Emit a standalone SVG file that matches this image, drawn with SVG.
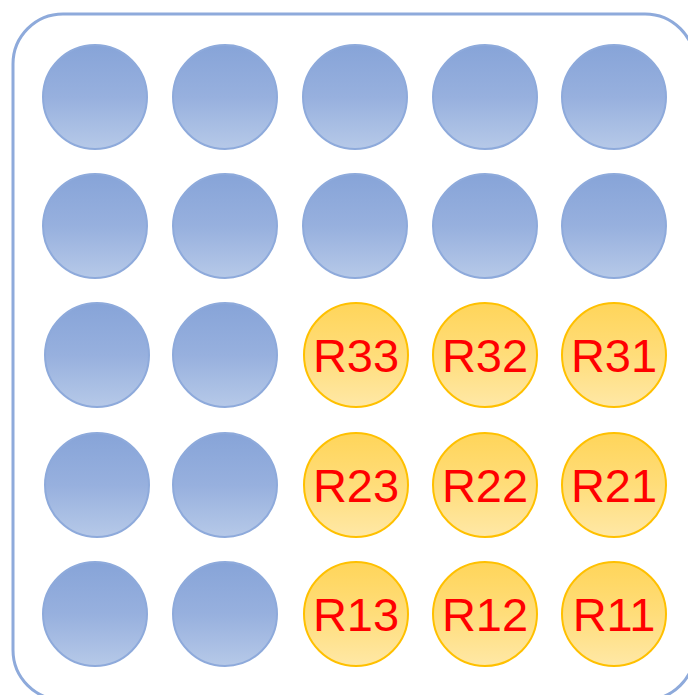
<svg xmlns="http://www.w3.org/2000/svg" width="688" height="695" viewBox="0 0 688 695">
<defs>
<linearGradient id="gb" x1="0" y1="0" x2="0" y2="1"><stop offset="0" stop-color="#87a4d8"/><stop offset="0.5" stop-color="#97b0de"/><stop offset="1" stop-color="#b6c9e8"/></linearGradient>
<linearGradient id="go" x1="0" y1="0" x2="0" y2="1"><stop offset="0" stop-color="#ffd55a"/><stop offset="0.5" stop-color="#ffdd7a"/><stop offset="1" stop-color="#ffe8a6"/></linearGradient>
<style>
.b{fill:url(#gb);stroke:#8eaadb;stroke-width:2}
.o{fill:url(#go);stroke:#ffc000;stroke-width:2}
.t{font-family:"Liberation Sans",Arial,sans-serif;font-size:47px;fill:#ff0000;text-anchor:middle}
.frame{fill:#ffffff;stroke:#8eaadb;stroke-width:3}
</style>
</defs>
<rect class="frame" x="13" y="14" width="682" height="686" rx="50" ry="50"/>
<g id="n11"><circle class="b" cx="95" cy="97" r="52"/></g>
<g id="n12"><circle class="b" cx="225" cy="97" r="52"/></g>
<g id="n13"><circle class="b" cx="355" cy="97" r="52"/></g>
<g id="n14"><circle class="b" cx="485" cy="97" r="52"/></g>
<g id="n15"><circle class="b" cx="614" cy="97" r="52"/></g>
<g id="n21"><circle class="b" cx="95" cy="226" r="52"/></g>
<g id="n22"><circle class="b" cx="225" cy="226" r="52"/></g>
<g id="n23"><circle class="b" cx="355" cy="226" r="52"/></g>
<g id="n24"><circle class="b" cx="485" cy="226" r="52"/></g>
<g id="n25"><circle class="b" cx="614" cy="226" r="52"/></g>
<g id="n31"><circle class="b" cx="97" cy="355" r="52"/></g>
<g id="n32"><circle class="b" cx="225" cy="355" r="52"/></g>
<g id="R33"><circle class="o" cx="356" cy="355" r="52"/><text class="t" x="356" y="372">R33</text></g>
<g id="R32"><circle class="o" cx="485" cy="355" r="52"/><text class="t" x="485" y="372">R32</text></g>
<g id="R31"><circle class="o" cx="614" cy="355" r="52"/><text class="t" x="614" y="372">R31</text></g>
<g id="n41"><circle class="b" cx="97" cy="485" r="52"/></g>
<g id="n42"><circle class="b" cx="225" cy="485" r="52"/></g>
<g id="R23"><circle class="o" cx="356" cy="485" r="52"/><text class="t" x="356" y="502">R23</text></g>
<g id="R22"><circle class="o" cx="485" cy="485" r="52"/><text class="t" x="485" y="502">R22</text></g>
<g id="R21"><circle class="o" cx="614" cy="485" r="52"/><text class="t" x="614" y="502">R21</text></g>
<g id="n51"><circle class="b" cx="95" cy="614" r="52"/></g>
<g id="n52"><circle class="b" cx="225" cy="614" r="52"/></g>
<g id="R13"><circle class="o" cx="356" cy="614" r="52"/><text class="t" x="356" y="631">R13</text></g>
<g id="R12"><circle class="o" cx="485" cy="614" r="52"/><text class="t" x="485" y="631">R12</text></g>
<g id="R11"><circle class="o" cx="614" cy="614" r="52"/><text class="t" x="614" y="631">R11</text></g>
<g id="connectors"/>
</svg>
